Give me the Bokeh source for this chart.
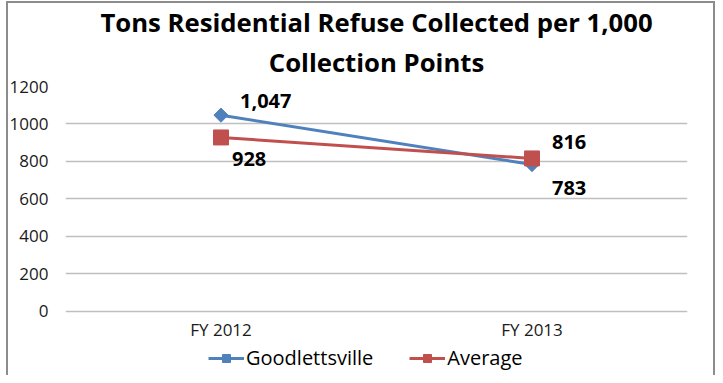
import math
from bokeh.plotting import figure
from bokeh.models import Range1d, FactorRange, Legend, LegendItem, Title, ColumnDataSource
from bokeh.embed import file_html
from bokeh.resources import INLINE
from bokeh.core.properties import value

categories = ["FY 2012", "FY 2013"]
goodlettsville = [1047, 783]
average = [928, 816]
y_ticks = [0, 200, 400, 600, 800, 1000, 1200]

BLUE = "#4F81BD"
RED = "#C0504D"
FONT = "Open Sans"

# the plot frame runs down to the bottom of the figure so that the category
# labels and the legend (which sit below 0) stay inside the drawable area
Y_BOTTOM = -343

p = figure(width=715, height=375, x_range=FactorRange(*categories, range_padding=0),
           y_range=Range1d(Y_BOTTOM, 1200), output_backend="svg", toolbar_location=None,
           x_axis_location=None,
           min_border_left=65, min_border_right=28, min_border_top=86, min_border_bottom=0)
p.outline_line_color = None
p.background_fill_color = "white"
p.border_fill_color = None
p.styles = {"box-shadow": ("inset 6px 0 0 white, inset 0 1px 0 white, "
                           "inset 8px 0 0 #8c8c8c, inset 0 3px 0 #8c8c8c, inset -2px 0 0 #8c8c8c")}

# titles (two lines)
t2 = Title(text="Collection Points", align="center", text_font=FONT, text_font_size="25.7px",
           text_font_style="bold", text_color="black", standoff=13)
t1 = Title(text="Tons Residential Refuse Collected per 1,000", align="center", text_font=FONT,
           text_font_size="25.7px", text_font_style="bold", text_color="black", standoff=-7)
p.title = None
p.add_layout(t2, "above")
p.add_layout(t1, "above")

# y axis
p.yaxis.ticker = y_ticks
p.yaxis.axis_line_color = None
p.yaxis.major_tick_line_color = None
p.yaxis.minor_tick_line_color = None
p.yaxis.major_label_text_font = FONT
p.yaxis.major_label_text_font_size = "17px"
p.yaxis.major_label_text_color = "#1a1a1a"
p.yaxis.major_label_standoff = 11

p.xgrid.grid_line_color = None
p.ygrid.ticker = y_ticks
p.ygrid.grid_line_color = "#BFBFBF"
p.ygrid.grid_line_width = 1.3

src = ColumnDataSource(dict(x=categories, g=goodlettsville, a=average, zero=[0] * len(categories)))

# category labels under the 0 line
p.text(x="x", y="zero", text="x", source=src, y_offset=18, text_font=value(FONT),
       text_font_size="17px", text_color="#1a1a1a", text_align="center", text_baseline="middle")

gl = p.line("x", "g", source=src, line_color=BLUE, line_width=3)
gm = p.scatter("x", "g", source=src, marker="square", angle=math.pi / 4, size=10,
               fill_color=BLUE, line_color=BLUE)
al = p.line("x", "a", source=src, line_color=RED, line_width=3)
am = p.scatter("x", "a", source=src, marker="square", size=15, fill_color=RED, line_color=RED)

# data labels
lab = dict(text_font=value(FONT), text_font_size="20px", text_font_style="bold",
           text_color="black", text_align="left", text_baseline="middle")
p.text(x=categories[:1], y=goodlettsville[:1], text=[f"{goodlettsville[0]:,}"], x_offset=19, y_offset=-14, **lab)
p.text(x=categories[1:], y=goodlettsville[1:], text=[f"{goodlettsville[1]:,}"], x_offset=20, y_offset=23, **lab)
p.text(x=categories[:1], y=average[:1], text=[f"{average[0]:,}"], x_offset=11, y_offset=22, **lab)
p.text(x=categories[1:], y=average[1:], text=[f"{average[1]:,}"], x_offset=20, y_offset=-16, **lab)

legend = Legend(items=[LegendItem(label="Goodlettsville", renderers=[gl, gm]),
                       LegendItem(label="Average", renderers=[al, am])],
                orientation="horizontal", location=(143, 4),
                label_text_font=FONT, label_text_font_size="20px", label_text_color="black",
                glyph_width=36, spacing=36, border_line_color=None, background_fill_alpha=0,
                padding=0, margin=0, label_standoff=2)
p.add_layout(legend, "center")

open("out.html", "w").write(file_html(p, INLINE))
